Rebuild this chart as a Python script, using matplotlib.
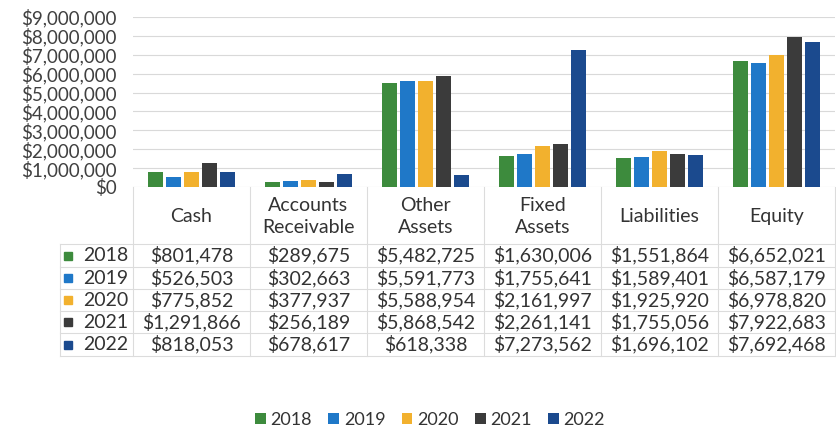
import matplotlib
matplotlib.use("Agg")
import matplotlib.pyplot as plt
from matplotlib.lines import Line2D
from matplotlib.transforms import blended_transform_factory

categories = ["Cash", "Accounts\nReceivable", "Other\nAssets", "Fixed\nAssets", "Liabilities", "Equity"]
years = ["2018", "2019", "2020", "2021", "2022"]
v2018 = [801478, 289675, 5482725, 1630006, 1551864, 6652021]
v2019 = [526503, 302663, 5591773, 1755641, 1589401, 6587179]
v2020 = [775852, 377937, 5588954, 2161997, 1925920, 6978820]
v2021 = [1291866, 256189, 5868542, 2261141, 1755056, 7922683]
v2022 = [818053, 678617, 618338, 7273562, 1696102, 7692468]
series = [v2018, v2019, v2020, v2021, v2022]
colors = ["#3d8b3d", "#1f78c8", "#f2b12e", "#3b3b3b", "#1b4a8e"]

plt.rcParams['font.family'] = ['Lato', 'DejaVu Sans']
W, H = 837, 432
fig = plt.figure(figsize=(W / 100, H / 100), dpi=100)
fig.patch.set_facecolor("white")

def fx(px):
    return px / W

def fy(py):
    return 1 - py / H

ax = fig.add_axes([fx(133), fy(187), fx(835) - fx(133), fy(17) - fy(187)])
n = len(categories)
xs = list(range(n))
bw = 0.125
step = 0.155
handles = []
for i, (vals, c, yr) in enumerate(zip(series, colors, years)):
    off = (i - 2) * step
    b = ax.bar([x + off for x in xs], vals, width=bw, color=c, label=yr, zorder=3)
    handles.append(b)

ax.set_xlim(-0.5, n - 0.5)
ax.set_ylim(0, 9000000)
ax.set_yticks(range(0, 9000001, 1000000))
ax.set_yticklabels(["$0"] + ["${:,}".format(v) for v in range(1000000, 9000001, 1000000)],
                   fontsize=13.5, color="#404040")
ax.tick_params(axis="y", length=0, pad=12)
ax.set_xticks([])
ax.grid(axis="y", color="#d9d9d9", linewidth=0.8, zorder=0)
for s in ax.spines.values():
    s.set_visible(False)

# data table
tr = blended_transform_factory(ax.transData, fig.transFigure)
line_c = "#dcdcdc"
txt_c = "#333333"
header_top, header_bot = 187, 244
row_bounds = [244, 267, 289, 311, 333, 356]
table_left_px = 60
fs = 14

for k in range(n + 1):
    xv = k - 0.5
    fig.add_artist(Line2D([xv, xv], [fy(header_top), fy(row_bounds[-1])], transform=tr,
                          color=line_c, linewidth=0.8))
fig.add_artist(Line2D([fx(table_left_px), fx(table_left_px)], [fy(row_bounds[0]), fy(row_bounds[-1])],
                      transform=fig.transFigure, color=line_c, linewidth=0.8))
for j, yb in enumerate(row_bounds):
    fig.add_artist(Line2D([fx(table_left_px), fx(835)], [fy(yb), fy(yb)],
                          transform=fig.transFigure, color=line_c, linewidth=0.8))

for k, cat in enumerate(categories):
    fig.text(k, fy((header_top + header_bot) / 2 + 1), cat, transform=tr, ha="center", va="center",
             fontsize=fs, color=txt_c, linespacing=1.3)

for r, (vals, c, yr) in enumerate(zip(series, colors, years)):
    yc = fy((row_bounds[r] + row_bounds[r + 1]) / 2)
    fig.text(fx(128), yc, yr, ha="right", va="center", fontsize=fs, color=txt_c)
    fig.patches.append(plt.Rectangle((fx(64), yc - 4 / H), 8 / W, 8 / H,
                                     transform=fig.transFigure, color=c, figure=fig))
    for k, v in enumerate(vals):
        fig.text(k, yc, "${:,}".format(v), transform=tr, ha="center", va="center",
                 fontsize=fs, color=txt_c)

fig.legend(handles=handles, labels=years, loc="center", bbox_to_anchor=(fx(430), fy(420)),
           ncol=5, frameon=False, fontsize=13, handlelength=0.6, handleheight=0.6,
           handletextpad=0.25, columnspacing=0.9, labelcolor=txt_c)

fig.savefig("out.png", dpi=100, facecolor="white")
